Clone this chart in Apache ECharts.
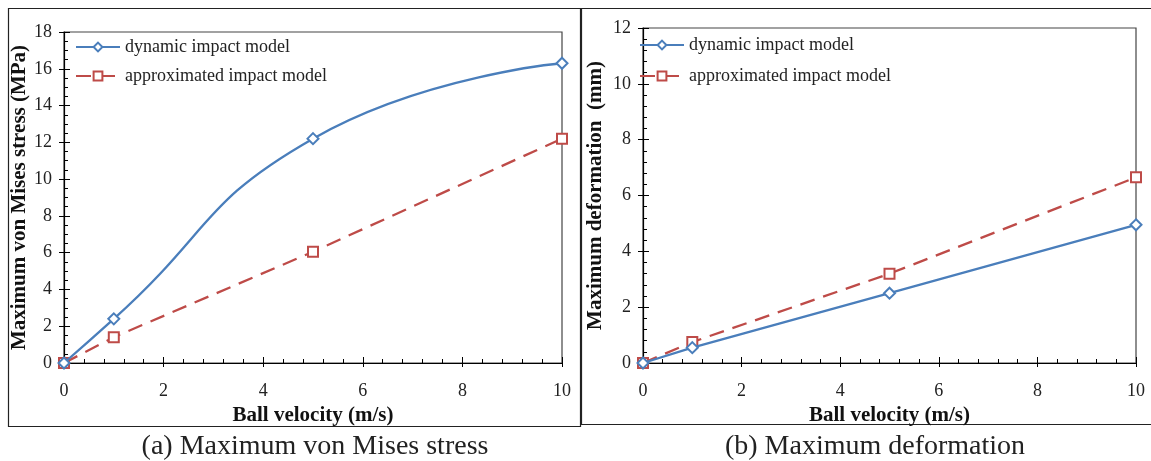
<!DOCTYPE html>
<html>
<head>
<meta charset="utf-8">
<style>html,body{margin:0;padding:0;background:#fff;}#c{width:1151px;height:461px;}</style>
<script src="https://cdn.jsdelivr.net/npm/echarts@6/dist/echarts.min.js"></script>
</head>
<body>
<div id="c"></div>
<script>
var velocity = [0, 1, 5, 10];
var stressDynamic = [0, 2.4, 12.2, 16.3];
var stressApprox = [0, 1.4, 6.05, 12.2];
var deformDynamic = [0, 0.55, 2.5, 4.95];
var deformApprox = [0, 0.75, 3.2, 6.65];
var seriesNames = ['dynamic impact model', 'approximated impact model'];
var captions = ['(a) Maximum von Mises stress', '(b) Maximum deformation'];
var yNames = ['Maximum von Mises stress (MPa)', 'Maximum deformation  (mm)'];
var xName = 'Ball velocity (m/s)';

var FONT = '"Liberation Serif", "DejaVu Serif", serif';
var BLUE = '#4a7ebb';
var RED = '#be4b48';
function pairs(xs, ys){ return xs.map(function(x,i){ return [x, ys[i]]; }); }

var chart = echarts.init(document.getElementById('c'));

function xAx(gi){
  return {
    type:'value', gridIndex:gi, min:0, max:10, interval:2,
    name:xName, nameLocation:'middle', nameGap:39,
    nameTextStyle:{fontFamily:FONT, fontWeight:'bold', fontSize:21, color:'#111'},
    axisLine:{lineStyle:{color:'#000', width:1.2}},
    axisTick:{inside:true, length:6, lineStyle:{color:'#000'}},
    minorTick:{show:true, splitNumber:5, length:4, lineStyle:{color:'#000'}},
    axisLabel:{fontFamily:FONT, fontSize:18, color:'#222', margin:19},
    splitLine:{show:false}
  };
}
function xAxOut(gi){
  return {
    type:'value', gridIndex:gi, min:0, max:10, interval:2, position:'bottom',
    axisLine:{show:false},
    axisTick:{inside:false, length:4, lineStyle:{color:'#000'}},
    axisLabel:{show:false}, splitLine:{show:false}
  };
}
function yAx(gi, max, minorSplit, gap){
  return {
    type:'value', gridIndex:gi, min:0, max:max, interval:2,
    name:yNames[gi], nameLocation:'middle', nameGap:gap,
    nameTextStyle:{fontFamily:FONT, fontWeight:'bold', fontSize:21, color:'#111'},
    axisLine:{lineStyle:{color:'#000', width:1.2}},
    axisTick:{inside:true, length:6, lineStyle:{color:'#000'}},
    minorTick:{show:true, splitNumber:minorSplit, length:4, lineStyle:{color:'#000'}},
    axisLabel:{fontFamily:FONT, fontSize:18, color:'#222', margin:12},
    splitLine:{show:false}
  };
}
function yAxOut(gi, max){
  return {
    type:'value', gridIndex:gi, min:0, max:max, interval:2, position:'left',
    axisLine:{show:false},
    axisTick:{inside:false, length:5, lineStyle:{color:'#000'}},
    axisLabel:{show:false}, splitLine:{show:false}
  };
}
function dyn(gi, data, smooth){
  return {
    name:seriesNames[0], type:'line', xAxisIndex:gi*2, yAxisIndex:gi*2,
    data:data, smooth:smooth,
    symbol:'emptyDiamond', symbolSize:11, showAllSymbol:true,
    lineStyle:{color:BLUE, width:2.3, type:'solid'},
    itemStyle:{color:BLUE, borderColor:BLUE, borderWidth:1.2},
    z:3
  };
}
function apx(gi, data){
  return {
    name:seriesNames[1], type:'line', xAxisIndex:gi*2, yAxisIndex:gi*2,
    data:data, symbol:'emptyRect', symbolSize:10,
    lineStyle:{color:RED, width:2.3, type:[15,9]},
    itemStyle:{color:RED, borderColor:RED, borderWidth:1.2},
    z:2
  };
}

var option = {
  backgroundColor:'#fff',
  animation:false,
  title:[
    {text:captions[0], left:310, top:428, textAlign:'center',
     textStyle:{fontFamily:FONT, fontSize:28, fontWeight:'normal', color:'#222'}},
    {text:captions[1], left:870, top:428, textAlign:'center',
     textStyle:{fontFamily:FONT, fontSize:28, fontWeight:'normal', color:'#222'}}
  ],
  graphic:[
    {type:'rect', shape:{x:8.5, y:8.5, width:572, height:418}, style:{fill:'none', stroke:'#222', lineWidth:1.2}, silent:true},
    {type:'rect', shape:{x:581.5, y:8.5, width:580, height:416}, style:{fill:'none', stroke:'#222', lineWidth:1.2}, silent:true}
  ],
  legend:[
    {show:true, left:70, top:33, orient:'vertical', itemGap:11, itemWidth:44, itemHeight:11,
     data:seriesNames, textStyle:{fontFamily:FONT, fontSize:18, color:'#222'},
     selectedMode:false},
    {show:true, left:634, top:31, orient:'vertical', itemGap:13, itemWidth:44, itemHeight:11,
     data:seriesNames, textStyle:{fontFamily:FONT, fontSize:18, color:'#222'},
     selectedMode:false}
  ],
  grid:[
    {left:64, right:589, top:32, bottom:98, show:true, borderColor:'#444', borderWidth:1.2, backgroundColor:'transparent'},
    {left:643, right:15, top:28, bottom:98, show:true, borderColor:'#444', borderWidth:1.2, backgroundColor:'transparent'}
  ],
  xAxis:[xAx(0), xAxOut(0), xAx(1), xAxOut(1)],
  yAxis:[yAx(0, 18, 4, 33), yAxOut(0, 18), yAx(1, 12, 5, 37), yAxOut(1, 12)],
  series:[
    dyn(0, pairs(velocity, stressDynamic), 0.5),
    apx(0, pairs(velocity, stressApprox)),
    dyn(1, pairs(velocity, deformDynamic), false),
    apx(1, pairs(velocity, deformApprox))
  ]
};
chart.setOption(option);
</script>
</body>
</html>
